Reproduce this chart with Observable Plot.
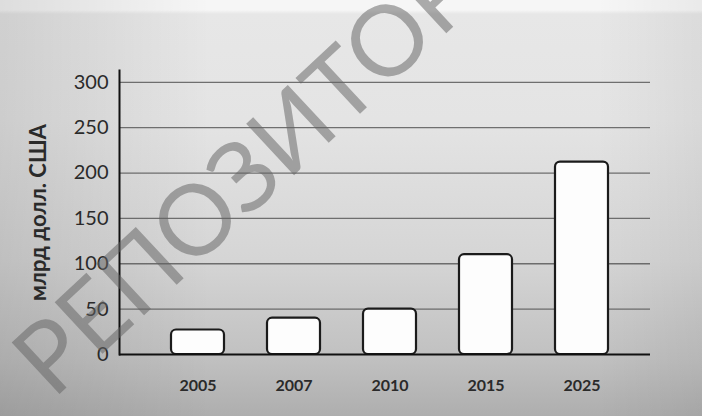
<!DOCTYPE html>
<html>
<head>
<meta charset="utf-8">
<script src="https://cdn.jsdelivr.net/npm/d3@7"></script>
<script src="https://cdn.jsdelivr.net/npm/@observablehq/plot@0.6"></script>
<style>
  html, body { margin: 0; padding: 0; background: #fff; }
  #wrap {
    position: relative; width: 702px; height: 416px; overflow: hidden;
    background:
      linear-gradient(to right, rgba(0,0,0,0.10) 0%, rgba(0,0,0,0) 30%, rgba(0,0,0,0) 85%, rgba(0,0,0,0.05) 100%),
      linear-gradient(to bottom, #f6f6f6 0px, #f6f6f6 10px, #e7e7e7 14px, #e4e4e4 120px, #d5d5d5 260px, #c0c0c0 360px, #aeaeae 416px);
  }
  #wrap svg { position: absolute; left: 0; top: 0; }
  #wm { pointer-events: none; }
</style>
</head>
<body>
<div id="wrap"></div>
<script>
const years = ["2005", "2007", "2010", "2015", "2025"];
const values = [27, 40, 50, 110, 212];
const yTicks = [0, 50, 100, 150, 200, 250, 300];
const gridTicks = [50, 100, 150, 200, 250, 300];
const yLabel = "млрд долл. США";
const watermark = "РЕПОЗИТОРИЙ";

const data = years.map((y, i) => ({year: y, value: values[i]}));

const chart = Plot.plot({
  width: 702,
  height: 416,
  marginLeft: 119,
  marginRight: 52,
  marginTop: 70,
  marginBottom: 62,
  style: {background: "transparent", fontFamily: "Lato, 'Open Sans', sans-serif", color: "#2a2a2a"},
  x: {domain: years, padding: 0.45, paddingOuter: 0.49, align: 0.55, label: null},
  y: {domain: [0, 313], label: null},
  marks: [
    Plot.ruleY(gridTicks, {stroke: "#5a5a5a", strokeWidth: 1.3, strokeOpacity: 0.85}),
    Plot.barY(data, {x: "year", y: "value", fill: "#fdfdfd", stroke: "#1b1b1b", strokeWidth: 2.2, rx: 5}),
    Plot.ruleY([0], {stroke: "#111", strokeWidth: 2.2}),
    Plot.frame({anchor: "left", stroke: "#111", strokeWidth: 2}),
    Plot.axisY({ticks: yTicks, tickSize: 0, tickPadding: 11, fontSize: 20, label: null}),
    Plot.axisY({ticks: [], label: yLabel, labelArrow: "none", labelAnchor: "center", labelOffset: 89, fontSize: 22, fontWeight: "bold"}),
    Plot.axisX({tickSize: 0, tickPadding: 25, fontSize: 16, fontWeight: "bold", label: null})
  ]
});

const wrap = document.getElementById("wrap");
wrap.appendChild(chart);

// watermark overlay
const svg = d3.select(wrap).append("svg")
  .attr("id", "wm").attr("width", 702).attr("height", 416);
svg.append("text")
  .attr("x", 53).attr("y", 400)
  .attr("transform", "rotate(-43, 53, 400)")
  .attr("font-family", "Lato, 'Open Sans', sans-serif")
  .attr("font-size", 98)
  .attr("fill", "rgba(100,100,100,0.52)")
  .text(watermark);
</script>
</body>
</html>
